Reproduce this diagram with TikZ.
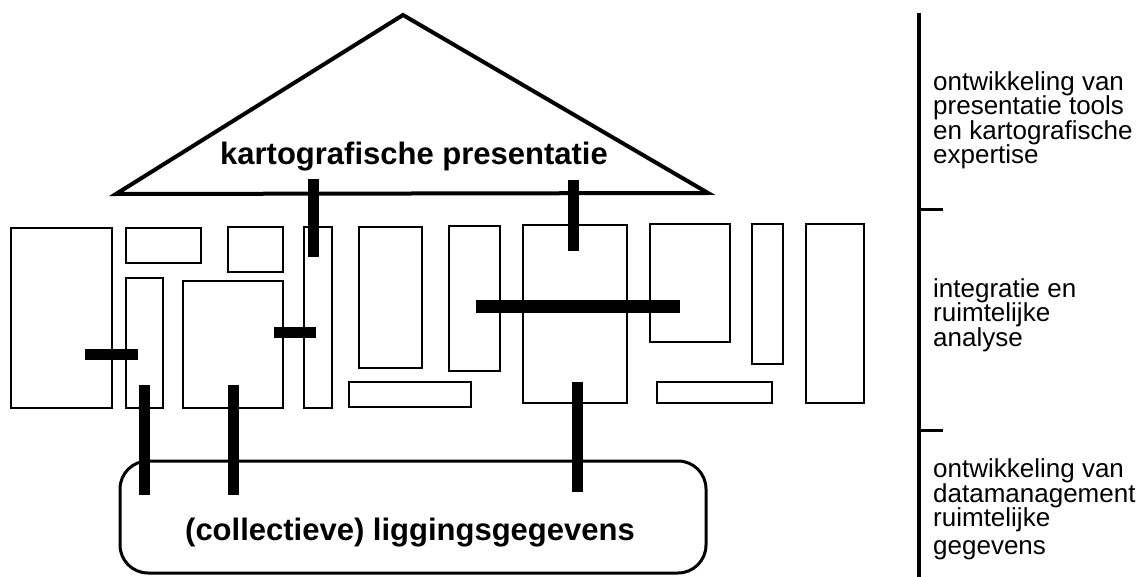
\documentclass[tikz,border=0pt]{standalone}
\usepackage{fontspec}
\setmainfont{Liberation Sans}
\newcommand\sidefont{\fontsize{26}{24.5}\selectfont\lineskiplimit=-50pt\relax}
\begin{document}
\begin{tikzpicture}[x=1pt,y=-1pt,
  box/.style={draw, line width=2.7pt, inner sep=0pt, outer sep=0pt, anchor=north west},
  bar/.style={line width=11pt, line cap=butt},
  title/.style={font={\bfseries\fontsize{31}{31}\selectfont}, inner sep=0pt, anchor=base},
  side/.style={font={\sidefont}, align=left, inner sep=0pt, anchor=base west},
]
\useasboundingbox (0,0) rectangle (1145,577);

% roof
\coordinate (tl) at (116,194);
\coordinate (apex) at (403,15);
\coordinate (tr) at (708,193);
\draw[line width=4pt, line join=miter] (tl) -- (apex) -- (tr) -- cycle;
\node[title] (kp) at (414,165) {kartografische presentatie};

% boxes
\node[box, minimum width=101pt, minimum height=180pt] (A) at (11,228) {};
\node[box, minimum width=75pt,  minimum height=35pt]  (B) at (126,228) {};
\node[box, minimum width=55pt,  minimum height=45pt]  (C) at (228,227) {};
\node[box, minimum width=37pt,  minimum height=130pt] (D) at (126,278) {};
\node[box, minimum width=100pt, minimum height=127pt] (E) at (183,281) {};
\node[box, minimum width=28pt,  minimum height=181pt] (F) at (304,227) {};
\node[box, minimum width=63pt,  minimum height=141pt] (G) at (359,227) {};
\node[box, minimum width=51pt,  minimum height=145pt] (H) at (449,226) {};
\node[box, minimum width=104pt, minimum height=178pt] (I) at (523,225) {};
\node[box, minimum width=80pt,  minimum height=118pt] (J) at (650,224) {};
\node[box, minimum width=31pt,  minimum height=140pt] (K) at (752,224) {};
\node[box, minimum width=58pt,  minimum height=179pt] (L) at (806,224) {};
\node[box, minimum width=122pt, minimum height=25pt]  (M) at (349,382) {};
\node[box, minimum width=115pt, minimum height=21pt]  (N) at (657,382) {};

% data base
\node[draw, line width=3pt, rounded corners=28pt, minimum width=586pt, minimum height=112pt, inner sep=0pt] (data) at (413,517) {};
\node[title] (lg) at (410,540) {(collectieve) liggingsgegevens};

% bars
\coordinate (b1s) at (313.5,179); \coordinate (b1e) at (313.5,257);
\coordinate (b2s) at (573,180);   \coordinate (b2e) at (573,251);
\coordinate (b3s) at (85,354);    \coordinate (b3e) at (138,354);
\coordinate (b4s) at (274,332.5); \coordinate (b4e) at (316,332.5);
\coordinate (b5s) at (476,306.5); \coordinate (b5e) at (680,306.5);
\coordinate (b6s) at (144.5,385); \coordinate (b6e) at (144.5,495);
\coordinate (b7s) at (233.5,385); \coordinate (b7e) at (233.5,495);
\coordinate (b8s) at (577.5,382); \coordinate (b8e) at (577.5,492);
\draw[bar] (b1s) -- (b1e);
\draw[bar] (b2s) -- (b2e);
\draw[bar] (b3s) -- (b3e);
\draw[bar] (b4s) -- (b4e);
\draw[bar, line width=13pt] (b5s) -- (b5e);
\draw[bar] (b6s) -- (b6e);
\draw[bar] (b7s) -- (b7e);
\draw[bar] (b8s) -- (b8e);

% scale on the right
\coordinate (st) at (919,13);
\coordinate (sb) at (919,577);
\coordinate (t1a) at (919,210); \coordinate (t1b) at (943,210);
\coordinate (t2a) at (919,430); \coordinate (t2b) at (943,430);
\draw[line width=4pt] (st) -- (sb);
\draw[line width=3pt] (t1a) -- (t1b);
\draw[line width=3pt] (t2a) -- (t2b);

\node[side] (s1) at (933,164) {ontwikkeling van\\presentatie tools\\en kartografische\\expertise};
\node[side] (s2) at (933,346) {integratie en\\ruimtelijke\\analyse};
\node[side] (s3) at (933,554) {ontwikkeling van\\datamanagement\\ruimtelijke\\[3pt]gegevens};
\end{tikzpicture}
\end{document}
